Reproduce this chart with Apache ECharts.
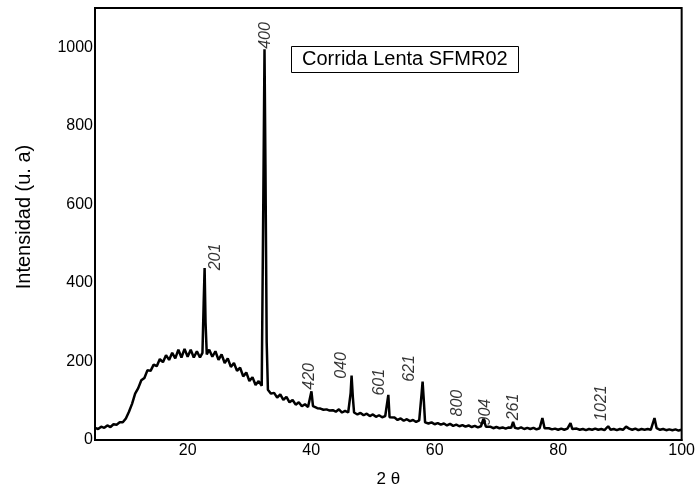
<!DOCTYPE html>
<html lang="es">
<head>
    <meta charset="UTF-8">
    <title>Corrida Lenta SFMR02</title>
    <script src="https://cdn.jsdelivr.net/npm/echarts@6.0.0/dist/echarts.min.js"></script>
    <style>
        html, body { margin: 0; padding: 0; background: #fff; }
        #chart { width: 698px; height: 493px; }
    </style>
</head>
<body>
    <div id="chart"></div>

    <script>
        const twoTheta = [
            5.0, 5.5, 6.0, 6.5, 7.0, 7.5, 8.0, 8.5, 9.0, 9.5,
            10.0, 10.5, 11.0, 11.5, 12.0, 12.5, 13.0, 13.5, 14.0, 14.5,
            15.0, 15.5, 16.0, 16.5, 17.0, 17.5, 18.0, 18.5, 19.0, 19.5,
            20.0, 20.5, 21.0, 21.5, 22.0, 22.4, 22.6, 22.75, 22.9, 23.1,
            23.5, 24.0, 24.5, 25.0, 25.5, 26.0, 26.5, 27.0, 27.5, 28.0,
            28.5, 29.0, 29.5, 30.0, 30.5, 31.0, 31.5, 32.0, 32.25, 32.45,
            32.6, 32.8, 33.0, 33.5, 34.0, 34.5, 35.0, 35.5, 36.0, 36.5,
            37.0, 37.5, 38.0, 38.5, 39.0, 39.5, 39.8, 40.05, 40.3, 40.5,
            41.0, 41.5, 42.0, 42.5, 43.0, 43.5, 44.0, 44.5, 45.0, 45.5,
            46.0, 46.2, 46.4, 46.55, 46.75, 46.95, 47.5, 48.0, 48.5, 49.0,
            49.5, 50.0, 50.5, 51.0, 51.5, 52.0, 52.3, 52.5, 52.7, 53.0,
            53.5, 54.0, 54.5, 55.0, 55.5, 56.0, 56.5, 57.0, 57.5, 57.75,
            57.9, 58.05, 58.25, 58.45, 59.0, 59.5, 60.0, 60.5, 61.0, 61.5,
            62.0, 62.5, 63.0, 63.5, 64.0, 64.5, 65.0, 65.5, 66.0, 66.5,
            67.0, 67.5, 67.9, 68.3, 68.5, 69.0, 69.5, 70.0, 70.5, 71.0,
            71.5, 72.0, 72.4, 72.7, 73.0, 73.5, 74.0, 74.5, 75.0, 75.5,
            76.0, 76.5, 77.0, 77.45, 77.8, 78.0, 78.5, 79.0, 79.5, 80.0,
            80.5, 81.0, 81.5, 82.0, 82.3, 82.5, 83.0, 83.5, 84.0, 84.5,
            85.0, 85.5, 86.0, 86.5, 87.0, 87.5, 88.1, 88.5, 89.0, 89.5,
            90.0, 90.5, 91.0, 91.5, 92.0, 92.5, 93.0, 93.5, 94.0, 94.5,
            95.0, 95.3, 95.6, 95.95, 96.5, 97.0, 97.5, 98.0, 98.5, 99.0,
            99.5, 100.0
        ];
        const intensity = [
            31, 28, 34, 31, 37, 33, 40, 39, 45, 45,
            55, 72, 92, 118, 132, 152, 158, 178, 176, 192,
            188, 206, 198, 216, 204, 222, 208, 230, 210, 232,
            212, 230, 210, 226, 210, 222, 350, 438, 300, 218,
            230, 212, 226, 204, 218, 196, 208, 186, 196, 176,
            184, 162, 172, 150, 160, 140, 150, 138, 600, 995,
            700, 250, 128, 118, 120, 108, 116, 102, 110, 96,
            102, 90, 96, 86, 91, 84, 88, 124, 86, 82,
            81, 80, 77, 78, 75, 76, 72, 78, 70, 74,
            70, 72, 120, 164, 110, 70, 65, 69, 63, 67,
            61, 65, 59, 63, 58, 61, 58, 115, 58, 54,
            57, 51, 55, 49, 53, 48, 51, 46, 50, 48,
            120, 149, 100, 45, 42, 45, 40, 43, 39, 42,
            37, 41, 36, 39, 35, 38, 34, 37, 33, 36,
            32, 35, 54, 34, 31, 34, 30, 33, 30, 32,
            29, 32, 31, 46, 31, 29, 32, 28, 31, 28,
            31, 27, 30, 56, 30, 27, 30, 27, 29, 26,
            29, 26, 29, 43, 28, 26, 29, 26, 28, 25,
            28, 26, 29, 26, 28, 25, 35, 26, 28, 25,
            28, 26, 34, 29, 26, 29, 25, 28, 26, 28,
            26, 28, 56, 30, 26, 28, 25, 27, 25, 27,
            24, 26
        ];

        // índices de Miller y posición de cada rótulo (en unidades de datos)
        const peakNames = ['201', '400', '420', '040', '601', '621', '800', '904', '261', '1021'];
        const peakLabelX = [24.5, 32.6, 39.8, 45.0, 51.0, 56.0, 63.7, 68.2, 72.7, 87.0];
        const peakLabelY = [466, 1030, 162, 190, 147, 182, 94, 71, 84, 94];

        const xTicks = [20, 40, 60, 80, 100];
        const yTicks = [0, 200, 400, 600, 800, 1000];

        const font = '"Liberation Sans", Arial, sans-serif';

        const chart = echarts.init(document.getElementById('chart'));

        chart.setOption({
            animation: false,
            backgroundColor: '#fff',
            textStyle: { fontFamily: font, color: '#000' },
            title: {
                text: 'Corrida Lenta SFMR02',
                left: 291,
                top: 46,
                borderColor: '#000',
                borderWidth: 1,
                padding: [3, 11, 3, 11],
                textStyle: { fontFamily: font, fontSize: 20, fontWeight: 'normal', color: '#000', lineHeight: 21 }
            },
            grid: {
                left: 95, right: 16, top: 8, bottom: 50,
                show: true, borderColor: '#000', borderWidth: 2
            },
            xAxis: {
                type: 'value',
                min: 5, max: 100,
                name: '2 θ',
                nameLocation: 'middle',
                nameGap: 31,
                nameTextStyle: { fontFamily: font, fontSize: 17, color: '#000' },
                axisLine: { lineStyle: { color: '#000', width: 2 } },
                axisTick: { show: false },
                splitLine: { show: false },
                axisLabel: { customValues: xTicks, fontSize: 16, color: '#000', margin: 3, fontFamily: font }
            },
            yAxis: {
                type: 'value',
                min: 0, max: 1100,
                axisLine: { show: true, lineStyle: { color: '#000', width: 2 } },
                axisTick: { show: false },
                splitLine: { show: false },
                axisLabel: {
                    customValues: yTicks, fontSize: 16, color: '#000', margin: 2, fontFamily: font,
                    formatter: v => String(v)
                }
            },
            graphic: [{
                type: 'text',
                x: 24, y: 217,
                rotation: Math.PI / 2,
                style: {
                    text: 'Intensidad (u. a)',
                    fontFamily: font, fontSize: 20, fill: '#000',
                    align: 'center', verticalAlign: 'middle'
                }
            }],
            series: [
                {
                    type: 'line',
                    data: twoTheta.map((t, i) => [t, intensity[i]]),
                    showSymbol: false,
                    lineStyle: { color: '#000', width: 2.5 },
                    silent: true
                },
                {
                    type: 'scatter',
                    data: peakNames.map((n, i) => ({ name: n, value: [peakLabelX[i], peakLabelY[i]] })),
                    symbolSize: 0,
                    silent: true,
                    label: {
                        show: true,
                        formatter: '{b}',
                        position: 'inside',
                        rotate: 90,
                        fontFamily: font,
                        fontSize: 16,
                        fontStyle: 'italic',
                        color: '#000'
                    }
                }
            ]
        });
    </script>
</body>
</html>
